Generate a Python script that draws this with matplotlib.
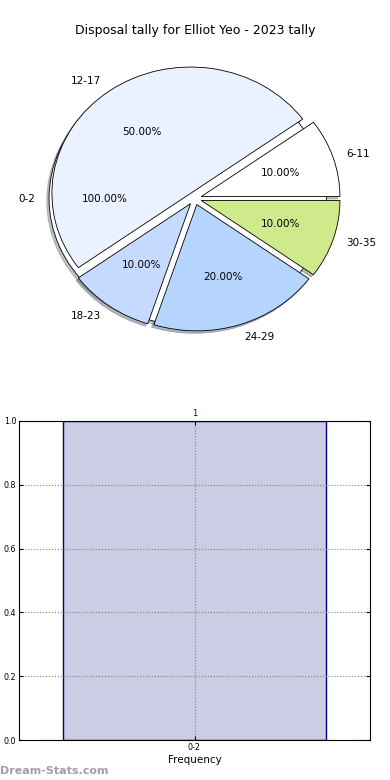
import numpy as np
import matplotlib
matplotlib.use("Agg")
import matplotlib.pyplot as plt

# single-bucket pie (drawn underneath)
base_labels = ["0-2"]
base_values = [1]

# season buckets
labels = ["6-11", "12-17", "18-23", "24-29", "30-35"]
values = [1, 5, 1, 2, 1]
colors = ["#FFFFFF", "#EAF1FF", "#C6D9FF", "#B5D5FF", "#CEEA8A"]

# bar chart
bar_labels = ["0-2"]
bar_values = [1]

fig = plt.figure(figsize=(3.9, 7.8), dpi=100)

shadow = dict(ox=-0.012, oy=-0.014, shade=0.5)

# pie chart
ax1 = fig.add_axes([0.0546, 0.543, 0.889, 0.405])
ax1.pie(base_values, labels=base_labels, colors=["white"], explode=[0.05],
        autopct="%1.2f%%", shadow=shadow,
        wedgeprops=dict(edgecolor="black", linewidth=0.6),
        textprops=dict(fontsize=7.5))
ax1.pie(values, labels=labels, colors=colors, explode=[0.05] * len(values),
        autopct="%1.2f%%", shadow=shadow,
        wedgeprops=dict(edgecolor="black", linewidth=0.6),
        textprops=dict(fontsize=7.5))
ax1.set_aspect("auto")
ax1.set_xlim(-1.25, 1.25)
ax1.set_ylim(-1.25, 1.25)
fig.text(0.5, 0.961, "Disposal tally for Elliot Yeo - 2023 tally",
         ha="center", va="center", fontsize=9)

# bar chart
ax2 = fig.add_axes([19 / 390, 1 - 740 / 780, 351 / 390, 319 / 780])
x = np.arange(len(bar_labels))
ax2.bar(x, bar_values, width=0.75, color="navy", alpha=0.2)
ax2.bar(x, bar_values, width=0.75, facecolor="none", edgecolor="navy", linewidth=1)
for xi, v in zip(x, bar_values):
    ax2.text(xi, v + 0.01, str(v), ha="center", va="bottom", fontsize=6, color="navy")
ax2.set_xlim(-0.5, 0.5)
ax2.set_ylim(0, 1.0)
ax2.set_xticks(x)
ax2.set_xticklabels(bar_labels)
ax2.set_yticks(np.arange(0, 1.01, 0.2))
ax2.yaxis.set_major_formatter(matplotlib.ticker.FormatStrFormatter("%.1f"))
ax2.tick_params(axis="both", direction="in", labelsize=5.8, top=True, right=True,
                length=3, pad=2)
ax2.grid(True, linestyle=":", color="gray", linewidth=0.8)
ax2.set_xlabel("Frequency", fontsize=7.5, labelpad=2)

fig.text(0.0, 0.012, "Dream-Stats.com", fontsize=8, color="#a0a0a0",
         fontweight="semibold", ha="left", va="center")

fig.savefig("out.png", dpi=100)
